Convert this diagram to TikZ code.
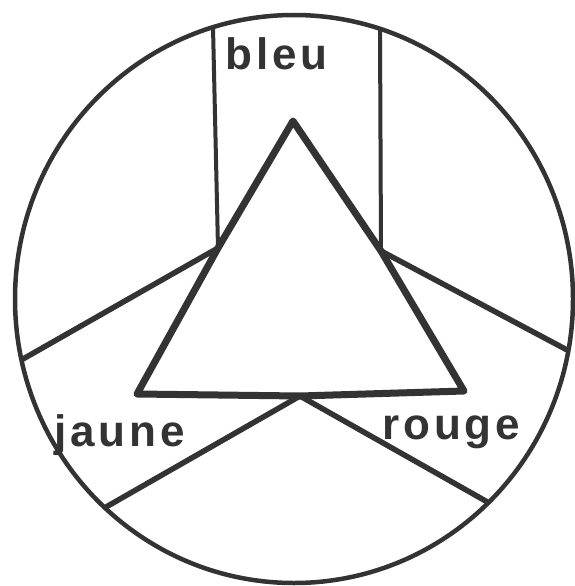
\documentclass[tikz,border=0pt]{standalone}
\usepackage{fontspec}
\setmainfont{Liberation Sans}
\newfontfamily\lblfont[LetterSpace=9]{Liberation Sans}
\definecolor{ink}{HTML}{333333}
\begin{document}
\begin{tikzpicture}[x=1pt,y=-1pt,
  rim/.style={draw=ink,line width=4.5pt},
  wall/.style={draw=ink,line width=4pt},
  spoke/.style={draw=ink,line width=5.5pt},
  tri/.style={draw=ink,line width=7pt,line join=round},
  lbl/.style={anchor=base west,inner sep=0pt,text=ink,font=\lblfont\bfseries\fontsize{44}{44}\selectfont}]
\useasboundingbox (0,0) rectangle (575,586);
% outer rim
\coordinate (c) at (294,299);
\draw[rim] (c) ellipse [x radius=279, y radius=284];
% triangle
\coordinate (apex) at (293,121);
\coordinate (lj) at (218,248);
\coordinate (rj) at (381,251);
\coordinate (bl) at (137,394);
\coordinate (br) at (464,391);
\coordinate (bj) at (300,396);
% ends on the rim
\coordinate (tl) at (213,27);
\coordinate (tr) at (380,29);
\coordinate (le) at (21.4,359.9);
\coordinate (re) at (568.3,350.6);
\coordinate (lle) at (104.8,507.7);
\coordinate (lre) at (488.5,502.6);
% partitions
\draw[wall] (lj) -- (tl);
\draw[wall] (rj) -- (tr);
\draw[spoke] (lj) -- (le);
\draw[spoke] (rj) -- (re);
\draw[spoke] (bj) -- (lle);
\draw[spoke] (bj) -- (lre);
\draw[tri] (apex) -- (rj) -- (br) -- (bj) -- (bl) -- (lj) -- cycle;
% labels
\node[lbl] (bleu) at (225,70) {bleu};
\node[lbl] (jaune) at (54,446) {jaune};
\node[lbl] (rouge) at (382,439) {rouge};
\end{tikzpicture}
\end{document}
